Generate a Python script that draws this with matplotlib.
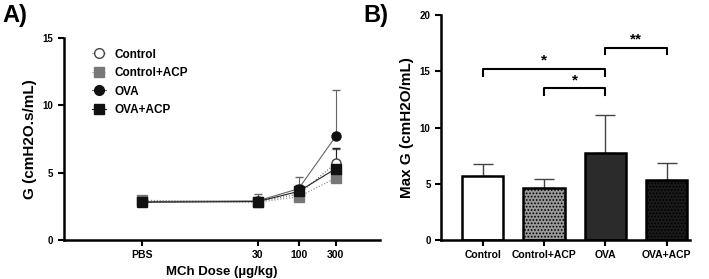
import matplotlib.pyplot as plt
from matplotlib.lines import Line2D
import numpy as np

plt.rcParams['font.family'] = ['Liberation Sans', 'DejaVu Sans']
plt.rcParams['font.weight'] = 'bold'
plt.rcParams['hatch.linewidth'] = 0.8

# panel A data
doses = [1, 30, 100, 300]
dose_labels = ['PBS', '30', '100', '300']
ctrl = [2.8, 2.85, 3.4, 5.7]
ctrl_err = [0.2, 0.25, 0.4, 1.05]
ctrl_acp = [2.95, 2.8, 3.2, 4.6]
ctrl_acp_err = [0.2, 0.2, 0.3, 0.85]
ova = [2.85, 2.9, 3.8, 7.7]
ova_err = [0.25, 0.5, 0.9, 3.4]
ova_acp = [2.8, 2.85, 3.6, 5.3]
ova_acp_err = [0.2, 0.3, 0.5, 1.5]

# panel B data
groups = ['Control', 'Control+ACP', 'OVA', 'OVA+ACP']
max_g = [5.7, 4.6, 7.7, 5.3]
max_g_err = [1.05, 0.85, 3.4, 1.55]

fig = plt.figure(figsize=(7.09, 2.79), dpi=100)
axA = fig.add_axes([0.090, 0.140, 0.446, 0.724])
axB = fig.add_axes([0.622, 0.140, 0.351, 0.806])

x = np.array(doses)
styles = [
    dict(color='#666666', ls=':', marker='o', mfc='white', mec='#444444', label='Control'),
    dict(color='#888888', ls=':', marker='s', mfc='#777777', mec='#777777', label='Control+ACP'),
    dict(color='#666666', ls='-', marker='o', mfc='#111111', mec='#111111', label='OVA'),
    dict(color='#222222', ls='-', marker='s', mfc='#111111', mec='#111111', label='OVA+ACP'),
]
series = [(ctrl, ctrl_err), (ctrl_acp, ctrl_acp_err), (ova, ova_err), (ova_acp, ova_acp_err)]
handles = []
for (y, e), st in zip(series, styles):
    axA.errorbar(x, y, yerr=[np.zeros(4), e], lw=0.8, ms=6.5, capsize=3, **st)
    handles.append(Line2D([], [], lw=0.8, ms=7, **st))
axA.set_xscale('log')
axA.set_xlim(0.1, 1100)
axA.set_ylim(0, 15)
axA.set_xticks(doses)
axA.set_xticklabels(dose_labels)
axA.minorticks_off()
axA.set_yticks([0, 5, 10, 15])
axA.set_xlabel('MCh Dose (µg/kg)', fontsize=9.5, fontweight='bold')
axA.set_ylabel('G (cmH2O.s/mL)', fontsize=11, fontweight='bold')
axA.legend(handles=handles, loc='upper left', bbox_to_anchor=(0.055, 1.0), frameon=False,
           fontsize=8.5, handlelength=1.2, handletextpad=0.7, labelspacing=0.55)

pos = np.arange(len(groups))
fills = ['white', '#999999', '#2b2b2b', '#1a1a1a']
hatches = [None, '.....', None, '.....']
for i in range(4):
    axB.bar(pos[i], max_g[i], width=0.67, color=fills[i], edgecolor='black', lw=1.8,
            hatch=hatches[i], zorder=2)
    axB.errorbar(pos[i], max_g[i], yerr=[[0], [max_g_err[i]]], color='#444444', lw=1,
                 capsize=7, capthick=1, zorder=1)
axB.set_xlim(-0.68, 3.38)
axB.set_ylim(0, 20)
axB.set_yticks([0, 5, 10, 15, 20])
axB.set_xticks(pos)
axB.set_xticklabels(groups)
axB.set_ylabel('Max G (cmH2O/mL)', fontsize=11, fontweight='bold')

# significance brackets
def bracket(ax, x1, x2, y, leg, text):
    ax.plot([x1, x1, x2, x2], [y - leg, y, y, y - leg], color='black', lw=1.5)
    ax.text((x1 + x2) / 2, y + 0.1, text, ha='center', va='bottom', fontsize=11, fontweight='bold')

bracket(axB, 0, 2, 15.2, 0.6, '*')
bracket(axB, 1, 2, 13.5, 0.6, '*')
bracket(axB, 2, 3, 17.1, 0.6, '**')

for ax in (axA, axB):
    for s in ('top', 'right'):
        ax.spines[s].set_visible(False)
    for s in ('left', 'bottom'):
        ax.spines[s].set_linewidth(1.8)
    ax.tick_params(width=1.5, length=4, labelsize=7)
    for lab in ax.get_xticklabels() + ax.get_yticklabels():
        lab.set_fontweight('bold')
axA.tick_params(axis='x', labelsize=7.5)
axB.tick_params(axis='x', labelsize=7.5)

fig.text(0.003, 0.985, 'A)', fontsize=17, fontweight='bold', va='top')
fig.text(0.512, 0.985, 'B)', fontsize=17, fontweight='bold', va='top')

fig.savefig('out.png', dpi=100)
